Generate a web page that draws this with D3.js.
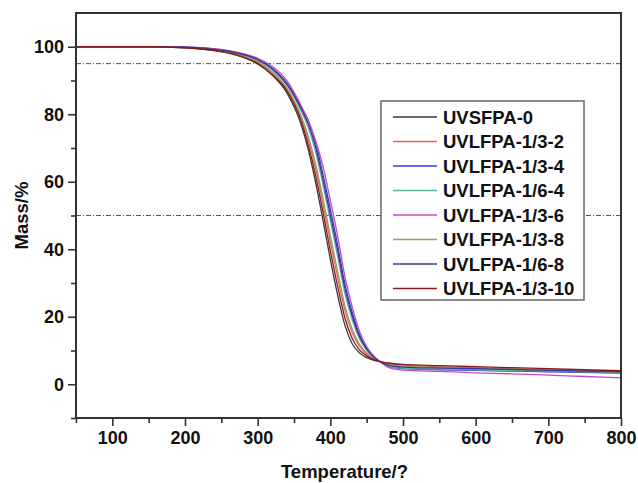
<!DOCTYPE html>
<html>
<head>
<meta charset="utf-8">
<script src="https://cdn.jsdelivr.net/npm/d3@7"></script>
<style>
  body { margin: 0; background: #fff; }
  svg { font-family: "Liberation Sans", Arial, sans-serif; font-weight: bold; }
</style>
</head>
<body>
<div id="chart"></div>
<script>
var width = 638;
var height = 483;
var margin = {top: 13, left: 76, right: 17, bottom: 65};

// temperature (°C) sample points shared by all curves
var temps = [50,100,150,200,250,275,300,320,340,360,370,380,390,400,410,420,430,440,450,460,470,480,500,550,600,650,700,750,800];

var names = ["UVSFPA-0","UVLFPA-1/3-2","UVLFPA-1/3-4","UVLFPA-1/6-4","UVLFPA-1/3-6","UVLFPA-1/3-8","UVLFPA-1/6-8","UVLFPA-1/3-10"];
var colors = ["#3a3a3a","#d86a6a","#3a3ad0","#5fb3a3","#c24cc8","#9a9a62","#3a3a8a","#8a1a1a"];

var mass0    = [100,100,100,99.7,98.5,97.2,94.9,91.6,86.4,76.8,69.2,59.5,48.5,37.0,26.5,17.5,12.0,9.3,7.9,7.1,6.6,6.1,5.6,5.1,4.8,4.5,4.2,3.9,3.6];
var mass13_2 = [100,100,100,99.8,98.7,97.5,95.4,92.2,87.5,78.8,72.2,63.7,53.3,42.2,31.7,21.9,15.3,11.3,8.9,7.5,6.6,6.0,5.5,5.1,4.8,4.5,4.3,4.0,3.8];
var mass13_4 = [100,100,100,99.9,99.1,98.1,96.3,93.7,89.3,82.1,77.9,71.4,62.1,51.9,41.4,29.8,21.4,14.8,10.7,8.1,6.5,5.3,4.6,4.3,4.1,3.9,3.7,3.5,3.3];
var mass16_4 = [100,100,100,99.8,99.0,97.9,96.0,93.1,88.6,80.9,75.8,68.6,58.9,48.4,37.9,26.9,19.2,13.5,10.0,7.9,6.5,5.4,4.8,4.5,4.3,4.1,3.9,3.7,3.5];
var mass13_6 = [100,100,100,99.9,99.2,98.2,96.6,94.2,90.0,82.5,78.0,72.0,64.5,54.5,44.0,32.0,23.0,15.8,11.2,8.3,6.5,5.0,4.2,3.8,3.4,3.1,2.7,2.3,1.9];
var mass13_8 = [100,100,100,99.8,98.8,97.6,95.6,92.5,87.8,79.4,73.2,65.1,54.9,44.0,33.5,23.3,16.4,11.9,9.2,7.6,6.6,5.9,5.4,5.0,4.7,4.4,4.2,3.9,3.7];
var mass16_8 = [100,100,100,99.9,99.0,98.0,96.2,93.5,89.0,81.5,76.9,70.0,60.5,50.1,39.6,28.4,20.3,14.2,10.4,8.0,6.5,5.6,5.1,4.8,4.6,4.4,4.1,3.9,3.7];
var mass13_10= [100,100,100,99.7,98.6,97.3,95.1,91.7,87.0,77.9,70.6,61.6,50.9,39.6,29.1,19.7,13.6,10.2,8.4,7.3,6.6,6.3,5.9,5.5,5.2,4.9,4.6,4.3,4.0];

var massSeries = [mass0, mass13_2, mass13_4, mass16_4, mass13_6, mass13_8, mass16_8, mass13_10];

var refLevels = [95, 50];
var xTicks = [100,200,300,400,500,600,700,800];
var xMinor = [50,150,250,350,450,550,650,750];
var yTicks = [0,20,40,60,80,100];
var yMinor = [-10,10,30,50,70,90];

var svg = d3.select("div#chart")
  .append("svg")
  .attr("width", width)
  .attr("height", height);

var xScale = d3.scaleLinear()
  .domain([50, 800])
  .range([margin.left, width - margin.right]);
var yScale = d3.scaleLinear()
  .domain([-10, 110])
  .range([height - margin.bottom, margin.top]);

var x0 = margin.left, x1 = width - margin.right;
var y0 = margin.top, y1 = height - margin.bottom;

// reference dash-dot lines
svg.selectAll("line.ref")
  .data(refLevels)
  .enter()
  .append("line")
    .attr("class", "ref")
    .attr("x1", x0).attr("x2", x1)
    .attr("y1", function(d){ return yScale(d); })
    .attr("y2", function(d){ return yScale(d); })
    .attr("stroke", "#555")
    .attr("stroke-width", 1)
    .attr("stroke-dasharray", "5,2,1,2");

// curves
var line = d3.line()
  .x(function(d, i){ return xScale(temps[i]); })
  .y(function(d){ return yScale(d); })
  .curve(d3.curveMonotoneX);

svg.selectAll("path.curve")
  .data(massSeries)
  .enter()
  .append("path")
    .attr("class", "curve")
    .attr("d", line)
    .attr("fill", "none")
    .attr("stroke", function(d, i){ return colors[i]; })
    .attr("stroke-width", 1.3);

// axes
var xAxis = svg.append("g")
  .attr("transform", `translate(0, ${y1})`)
  .call(d3.axisBottom(xScale).tickValues(xTicks).tickSize(8).tickPadding(5).tickSizeOuter(0));
var xAxisMinor = svg.append("g")
  .attr("transform", `translate(0, ${y1})`)
  .call(d3.axisBottom(xScale).tickValues(xMinor).tickSize(5).tickFormat("").tickSizeOuter(0));
var yAxis = svg.append("g")
  .attr("transform", `translate(${x0},0)`)
  .call(d3.axisLeft(yScale).tickValues(yTicks).tickSize(8).tickPadding(4).tickSizeOuter(0));
var yAxisMinor = svg.append("g")
  .attr("transform", `translate(${x0},0)`)
  .call(d3.axisLeft(yScale).tickValues(yMinor).tickSize(5).tickFormat("").tickSizeOuter(0));

svg.selectAll(".tick line").attr("stroke", "#333").attr("stroke-width", 1.6);
svg.selectAll(".domain").attr("stroke", "none");
svg.selectAll(".tick text")
  .attr("font-family", "Liberation Sans, Arial, sans-serif")
  .attr("font-weight", "bold")
  .attr("font-size", 18)
  .attr("fill", "#111");

// frame
svg.append("rect")
  .attr("x", x0).attr("y", y0)
  .attr("width", x1 - x0).attr("height", y1 - y0)
  .attr("fill", "none")
  .attr("stroke", "#333")
  .attr("stroke-width", 2);

// legend
var legend = svg.append("g").attr("transform", "translate(381,101)");
legend.append("rect")
  .attr("width", 203).attr("height", 199)
  .attr("fill", "#fff")
  .attr("stroke", "#666")
  .attr("stroke-width", 1.5);
var rows = legend.selectAll("g.row")
  .data(names)
  .enter()
  .append("g")
    .attr("class", "row")
    .attr("transform", function(d, i){ return `translate(0, ${16 + i * 24.5})`; });
rows.append("line")
  .attr("x1", 12).attr("x2", 56)
  .attr("stroke", function(d, i){ return colors[i]; })
  .attr("stroke-width", 1.3);
rows.append("text")
  .attr("x", 62)
  .attr("dy", "0.36em")
  .attr("font-size", 18.5)
  .attr("fill", "#111")
  .text(function(d){ return d; });

// axis labels
svg.append("text")
  .attr("x", (x0 + x1) / 2 - 4)
  .attr("y", 478)
  .attr("text-anchor", "middle")
  .attr("font-size", 18.5)
  .attr("fill", "#111")
  .text("Temperature/?");

svg.append("text")
  .attr("transform", "rotate(-90)")
  .attr("x", -(y0 + y1) / 2)
  .attr("y", 28)
  .attr("text-anchor", "middle")
  .attr("font-size", 18.5)
  .attr("fill", "#111")
  .text("Mass/%");
</script>
</body>
</html>
